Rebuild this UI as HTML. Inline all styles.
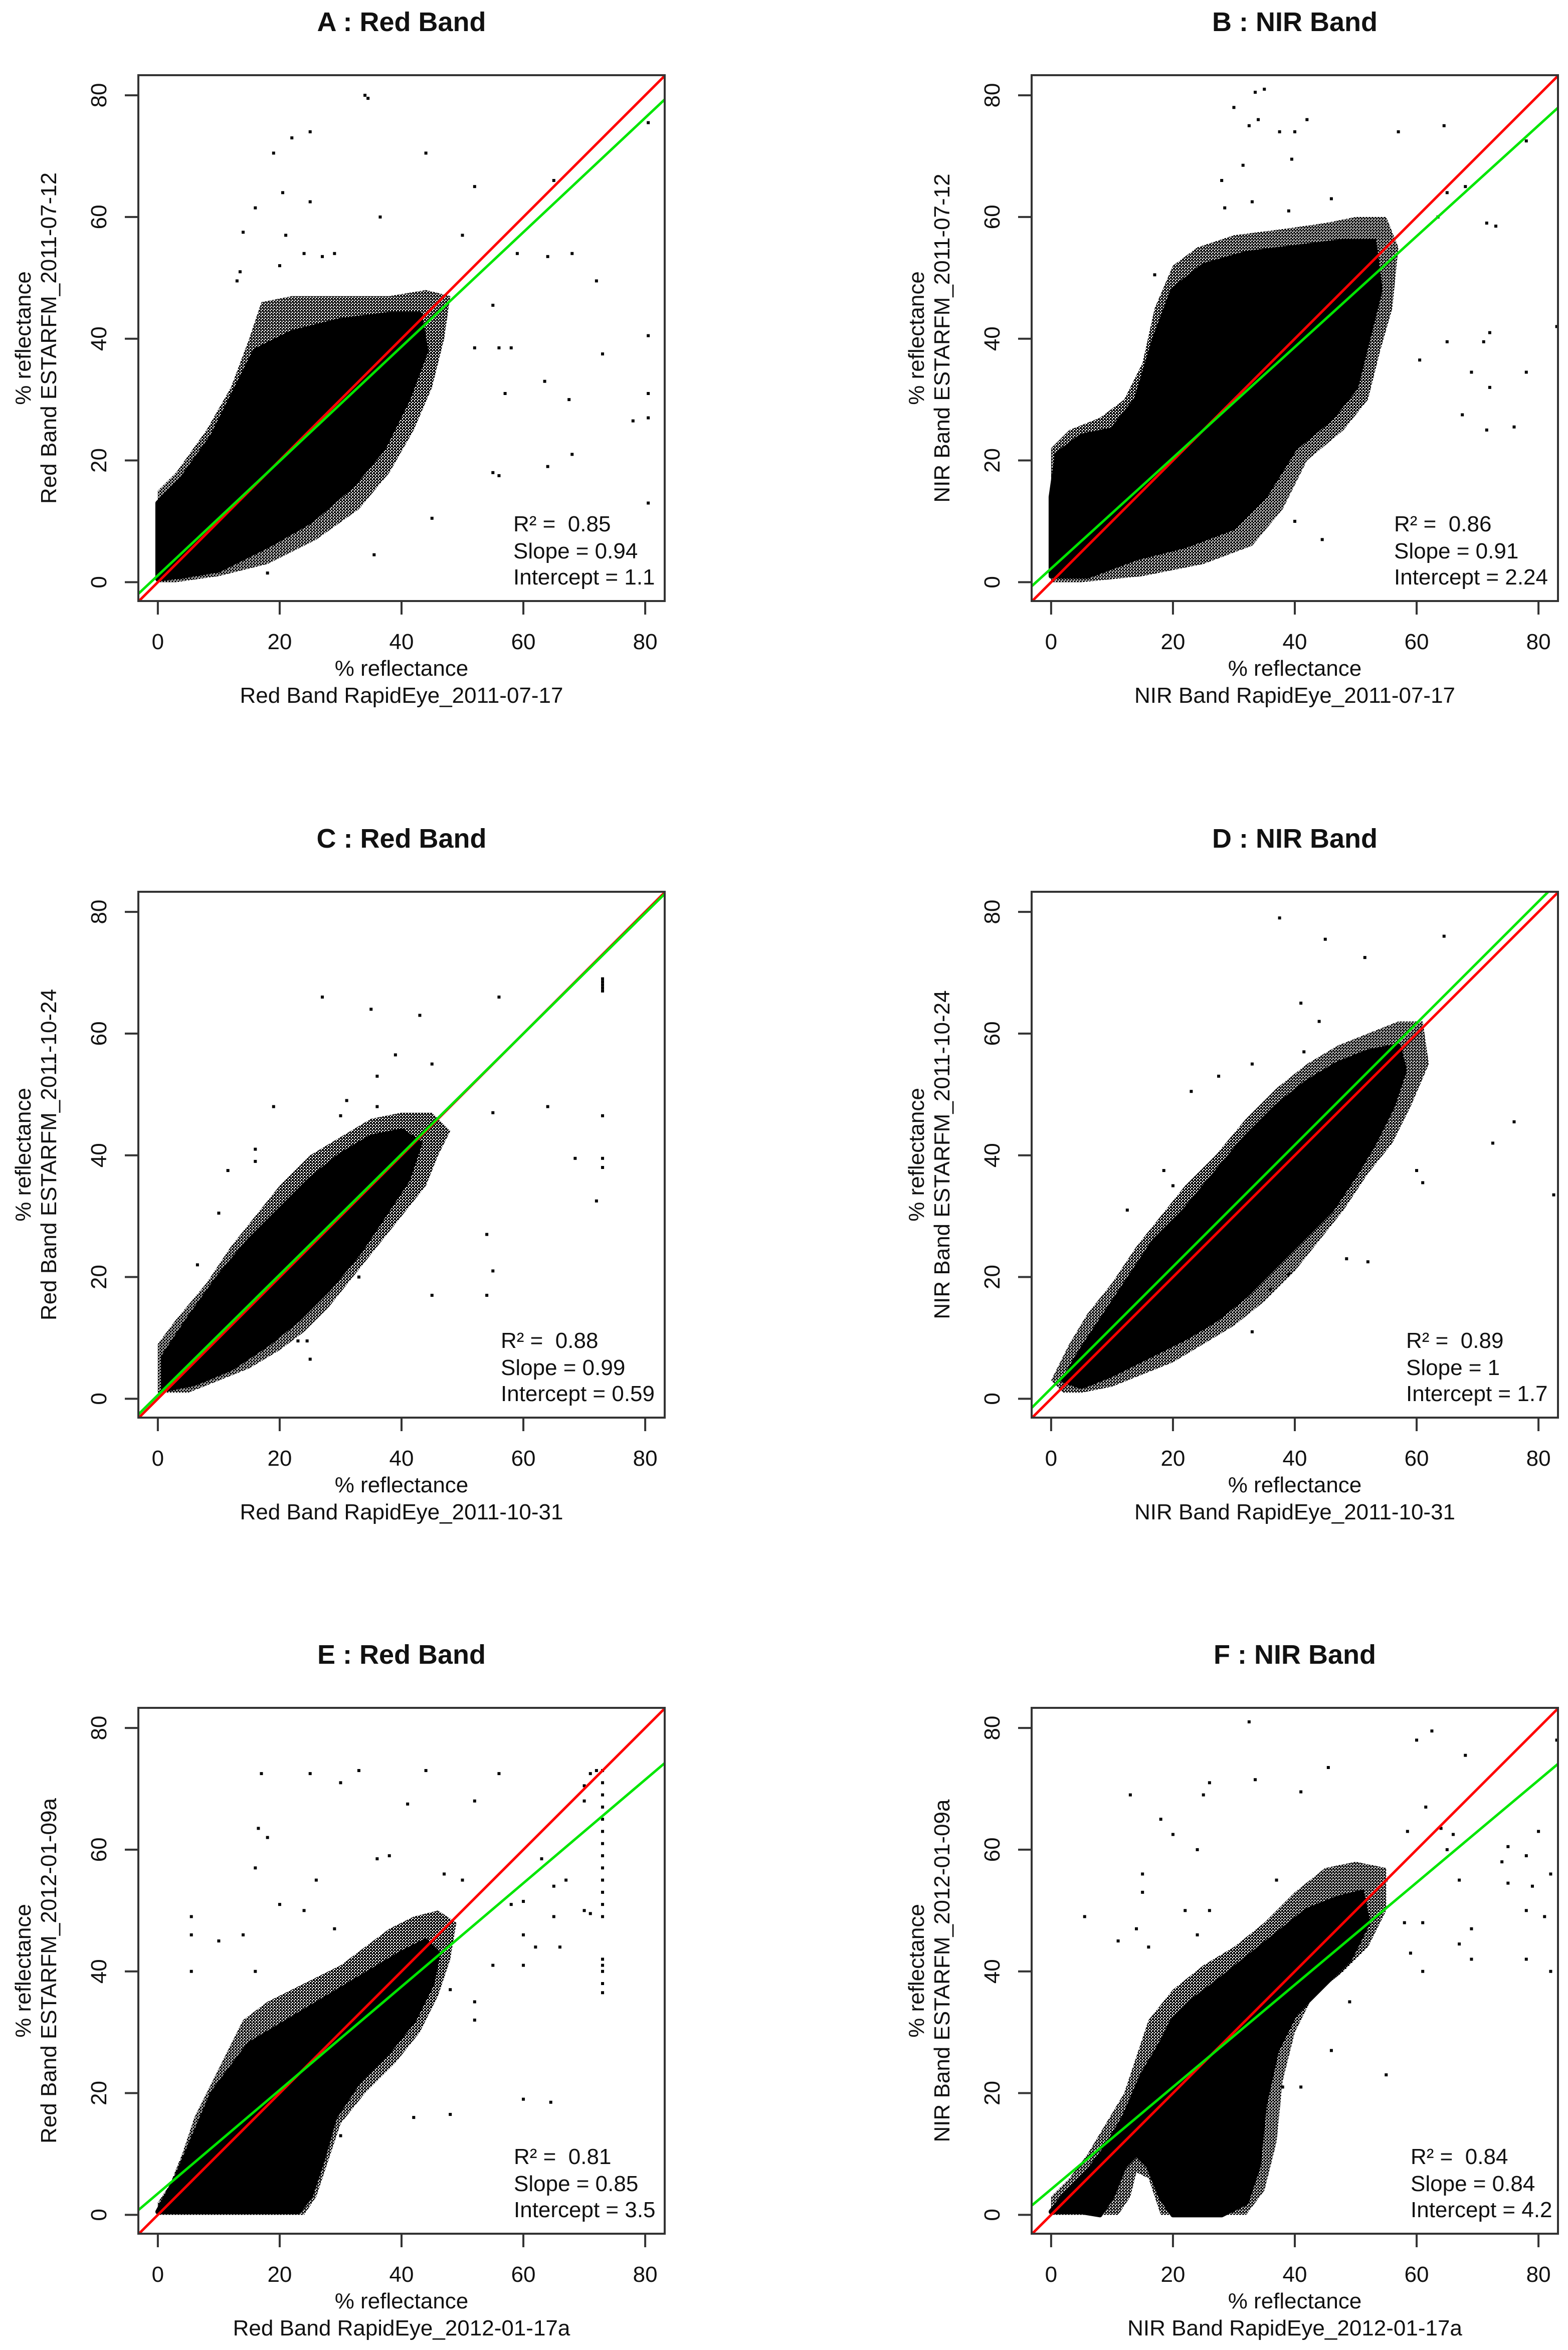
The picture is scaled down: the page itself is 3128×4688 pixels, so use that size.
<!DOCTYPE html>
<html><head><meta charset="utf-8"><title>ESTARFM vs RapidEye scatter plots</title>
<style>
html,body{margin:0;padding:0;background:#fff;}
svg{display:block;}
text{font-family:"Liberation Sans",Arial,sans-serif;fill:#111;}
.stat{white-space:pre;}
</style></head>
<body>
<svg id="fig" xmlns="http://www.w3.org/2000/svg" width="3128" height="4688" viewBox="0 0 3128 4688">
<defs>
<pattern id="fringe" patternUnits="userSpaceOnUse" width="6" height="6">
<rect x="0" y="0" width="4" height="4" fill="#000"/>
<rect x="3" y="3" width="3" height="3" fill="#000"/>
</pattern>
</defs>
</svg>
<script>
// ---- data ----
const panelTitles = ["A : Red Band","B : NIR Band","C : Red Band","D : NIR Band","E : Red Band","F : NIR Band"];
const yLabels = ["Red Band ESTARFM_2011-07-12","NIR Band ESTARFM_2011-07-12","Red Band ESTARFM_2011-10-24","NIR Band ESTARFM_2011-10-24","Red Band ESTARFM_2012-01-09a","NIR Band ESTARFM_2012-01-09a"];
const xLabels = ["Red Band RapidEye_2011-07-17","NIR Band RapidEye_2011-07-17","Red Band RapidEye_2011-10-31","NIR Band RapidEye_2011-10-31","Red Band RapidEye_2012-01-17a","NIR Band RapidEye_2012-01-17a"];
const r2Values = ["0.85","0.86","0.88","0.89","0.81","0.84"];
const slopes = [0.94,0.91,0.99,1,0.85,0.84];
const slopeLabels = ["0.94","0.91","0.99","1","0.85","0.84"];
const intercepts = [1.1,2.24,0.59,1.7,3.5,4.2];
const interceptLabels = ["1.1","2.24","0.59","1.7","3.5","4.2"];
const ticks = [0,20,40,60,80];

const fringeA = [[0,0],[0,15],[3,18],[8,25],[12,32],[15,40],[17,46],[22,47],[30,47],[38,47],[44,48],[48,47],[47,40],[45,32],[42,25],[38,18],[33,12],[26,7],[18,3],[10,1],[3,0]];
const coreA = [[0,0.5],[0,13],[4,17],[9,24],[13,32],[16,38],[22,41],[30,43],[38,44],[43,44],[44,38],[41,30],[37,22],[32,16],[25,10],[18,6],[10,2],[4,1]];
const outA = [[34,80],[34.5,79.5],[25,74],[22,73],[19,70.5],[44,70.5],[80.5,75.5],[20.5,64],[25,62.5],[16,61.5],[36.5,60],[52,65],[65,66],[14,57.5],[21,57],[24,54],[29,54],[27,53.5],[20,52],[13,49.5],[13.5,51],[50,57],[59,54],[64,53.5],[68,54],[72,49.5],[80.5,40.5],[73,37.5],[80.5,31],[80.5,27],[78,26.5],[67.5,30],[63.5,33],[68,21],[64,19],[55,18],[56,17.5],[80.5,13],[57,31],[58,38.5],[56,38.5],[55,45.5],[52,38.5],[35.5,4.5],[18,1.5],[45,10.5]];

const fringeB = [[0,0],[0,5],[0,15],[0,22],[3,25],[8,27],[12,30],[15,36],[17,45],[20,52],[24,55],[30,57],[38,58],[45,59],[50,60],[55,60],[57,55],[56,45],[54,38],[52,30],[48,25],[42,20],[38,12],[33,6],[25,3],[15,1],[5,0]];
const coreB = [[0,1],[0,14],[1,21],[5,24],[10,25],[14,30],[17,40],[20,48],[25,52],[32,54],[40,55],[48,56],[53,56],[54,48],[52,40],[50,32],[46,27],[40,22],[35,14],[30,9],[22,6],[14,4],[6,1]];
const outB = [[35,81],[33.5,80.5],[30,78],[34,76],[32.5,75],[42,76],[64.5,75],[57,74],[40,74],[37.5,74],[39.5,69.5],[31.5,68.5],[28,66],[78,72.5],[65,64],[68,65],[33,62.5],[39,61],[28.5,61.5],[46,63],[63.5,60],[71.5,59],[73,58.5],[83,42],[72,41],[71,39.5],[65,39.5],[60.5,36.5],[69,34.5],[72,32],[71.5,25],[76,25.5],[78,34.5],[67.5,27.5],[40,10],[44.5,7],[25,10.5],[17,50.5],[19,45.5]];

const fringeC = [[0,1],[0,9],[3,13],[8,19],[12,25],[16,30],[20,35],[25,40],[30,43],[35,46],[40,47],[45,47],[48,44],[46,40],[44,35],[40,30],[36,25],[32,20],[28,15],[24,11],[20,8],[15,5],[10,3],[5,1]];
const coreC = [[1,1.5],[1,7],[5,13],[10,20],[15,26],[20,31],[25,36],[30,40],[35,43],[40,44],[43,42],[41,36],[37,30],[33,24],[28,18],[23,13],[18,9],[12,5],[6,2.5]];
const outC = [[73,69],[73,68.5],[73,68],[73,67.5],[73,67],[73,46.5],[73,39.5],[73,38],[72,32.5],[68.5,39.5],[27,66],[35,64],[43,63],[56,66],[39,56.5],[45,55],[36,53],[36,48],[31,49],[30,46.5],[19,48],[16,41],[16,39],[11.5,37.5],[10,30.5],[6.5,22],[55,47],[64,48],[54,27],[55,21],[54,17],[45,17],[25,6.5],[23,9.5],[24.5,9.5],[33,20]];

const fringeD = [[0,3],[1,5],[3,9],[6,14],[10,19],[14,25],[18,30],[22,35],[27,40],[32,46],[37,51],[42,55],[47,58],[52,60],[57,62],[61,62],[62,55],[59,48],[56,42],[52,37],[48,31],[44,26],[40,21],[35,16],[30,12],[25,9],[20,6],[15,4],[10,2],[5,1],[2,1]];
const coreD = [[2,3],[5,8],[9,14],[13,20],[17,26],[22,31],[27,37],[32,43],[37,48],[42,52],[47,55],[52,57],[57,58],[58,54],[56,48],[53,42],[50,37],[46,31],[42,27],[37,22],[32,17],[27,13],[22,10],[16,7],[10,4],[5,2]];
const outD = [[37.5,79],[45,75.5],[51.5,72.5],[64.5,76],[41,65],[44,62],[23,50.5],[41.5,57],[33,55],[27.5,53],[76,45.5],[72.5,42],[82.5,33.5],[60,37.5],[61,35.5],[48.5,23],[52,22.5],[20,35],[18.5,37.5],[12.5,31],[33,11],[39,20.5],[36,18]];

const fringeE = [[0,0],[0,2],[2,5],[4,10],[6,16],[8,20],[10,24],[12,28],[14,32],[18,35],[22,37],[26,39],[30,41],[34,44],[38,47],[42,49],[46,50],[49,48],[48,42],[46,36],[43,30],[39,25],[34,20],[30,15],[28,9],[26,3],[24,0]];
const coreE = [[0,0.5],[3,6],[6,13],[9,20],[12,24],[15,28],[20,31],[25,34],[30,37],[35,40],[40,43],[44,45],[46,43],[45,38],[42,32],[38,27],[33,22],[29,16],[27,9],[25,3],[23,0.5],[15,0.5],[10,0.5],[5,0.5]];
const outE = [[73,73],[73,71],[73,69],[73,67],[73,65],[73,63],[73,61],[73,59],[73,57],[73,55],[73,53],[73,51],[73,49],[73,42],[73,41],[73,40],[73,38],[73,36.5],[17,72.5],[25,72.5],[33,73],[44,73],[56,72.5],[71,72.5],[72,73],[70,70.5],[70,68],[30,71],[52,68],[41,67.5],[16.5,63.5],[18,62],[26,55],[36,58.5],[38,59],[63,58.5],[16,57],[47,56],[65,54],[50,55],[67,55],[58,51],[60,51.5],[65,49],[71,49.5],[70,50],[5.5,49],[20,51],[24,50],[14,46],[5.5,46],[10,45],[29,47],[60,46],[62,44],[66,44],[55,41],[60,41],[5.5,40],[16,40],[48,37],[52,35],[52,32],[60,19],[64.5,18.5],[48,16.5],[42,16],[30,13]];

const fringeF = [[0,0],[0,3],[3,6],[6,10],[9,15],[12,20],[14,26],[16,32],[20,37],[25,41],[30,44],[35,48],[40,53],[45,57],[50,58],[55,57],[55,50],[52,44],[48,40],[43,36],[40,30],[38,22],[37,12],[35,4],[32,0],[18,0],[16,6],[14,7],[13,3],[11,0]];
const coreF = [[0,0.5],[2,3],[6,7],[9,11],[12,16],[15,23],[18,28],[20,32],[23,35],[27,38],[32,42],[37,46],[42,50],[47,52],[51,53],[52,48],[49,42],[44,37],[40,33],[37,27],[35,18],[34,8],[32,2],[28,0],[20,0],[18,3],[16,8],[14,10],[12,8],[10,3],[8,0],[5,0.5]];
const outF = [[32.5,81],[62.5,79.5],[60,78],[83,78],[68,75.5],[45.5,73.5],[33.5,71.5],[26,71],[13,69],[25,69],[41,69.5],[61.5,67],[58.5,63],[64,63.5],[66,62.5],[18,65],[20,62.5],[65,60],[75,60.5],[78,59],[80,63],[74,58],[82,56],[67,55],[55,55],[75,54.5],[79,54],[24,60],[15,56],[15,53],[37,55],[26,50],[22,50],[24,46],[14,47],[16,44],[11,45],[5.5,49],[69,47],[78,50],[81,49],[67,44.5],[69,42],[78,42],[82,40],[61,40],[59,43],[61,48],[58,48],[49,35],[46,27],[55,23],[38,21],[41,21],[35,18],[31,14],[33,12]];

const fringes = [fringeA,fringeB,fringeC,fringeD,fringeE,fringeF];
const cores = [coreA,coreB,coreC,coreD,coreE,coreF];
const outliers = [outA,outB,outC,outD,outE,outF];

// ---- layout ----
const NS = "http://www.w3.org/2000/svg";
const svg = document.getElementById('fig');
const colX = [276, 2058];
const rowY = [150, 1779, 3407];
const BW = 1050, BH = 1049;
const XMIN = -3.2, XMAX = 83.2, YMIN = -3.1, YMAX = 83.3;
const statLeft = [748, 723, 723, 747, 749, 756];

function mk(tag, attrs, parent) {
  const e = document.createElementNS(NS, tag);
  for (const k in attrs) e.setAttribute(k, attrs[k]);
  (parent || svg).appendChild(e);
  return e;
}

for (let p = 0; p < 6; p++) {
  const bx = colX[p % 2], by = rowY[Math.floor(p / 2)];
  const sx = v => bx + (v - XMIN) / (XMAX - XMIN) * BW;
  const sy = v => by + BH - (v - YMIN) / (YMAX - YMIN) * BH;
  const letter = "abcdef"[p];

  const g = mk('g', {});
  
  

  const cp = mk('clipPath', {id: 'clip' + p}, g);
  mk('rect', {x: bx, y: by, width: BW, height: BH}, cp);

  const title = mk('text', {x: bx + BW / 2, y: by - 88, 'text-anchor': 'middle', 'font-size': 54, 'font-weight': 'bold'}, g);
  title.textContent = panelTitles[p];
  
  

  const plot = mk('g', {'clip-path': 'url(#clip' + p + ')'}, g);
  
  

  const fr = mk('polygon', {points: fringes[p].map(d => sx(d[0]) + ',' + sy(d[1])).join(' '), fill: 'url(#fringe)'}, plot);
  
  
  const co = mk('polygon', {points: cores[p].map(d => sx(d[0]) + ',' + sy(d[1])).join(' '), fill: '#000', stroke: '#000', 'stroke-width': 10, 'stroke-linejoin': 'round'}, plot);
  
  
  outliers[p].forEach(d => {
    const r = mk('rect', {x: sx(d[0]) - 3, y: sy(d[1]) - 3, width: 6, height: 6, fill: '#000'}, plot);
    
    
  });

  const red = mk('line', {x1: sx(XMIN), y1: sy(XMIN), x2: sx(XMAX), y2: sy(XMAX), stroke: '#ff0000', 'stroke-width': 5}, plot);
  
  
  const gr = mk('line', {x1: sx(XMIN), y1: sy(slopes[p] * XMIN + intercepts[p]), x2: sx(XMAX), y2: sy(slopes[p] * XMAX + intercepts[p]), stroke: '#00e600', 'stroke-width': 5}, plot);
  
  

  const box = mk('rect', {x: bx, y: by, width: BW, height: BH, fill: 'none', stroke: '#333', 'stroke-width': 4}, g);
  
  

  ticks.forEach(t => {
    const xt = mk('line', {x1: sx(t), y1: by + BH, x2: sx(t), y2: by + BH + 27, stroke: '#333', 'stroke-width': 4}, g);
    
    
    const xl = mk('text', {x: sx(t), y: by + BH + 96, 'text-anchor': 'middle', 'font-size': 44}, g);
    xl.textContent = t;
    
    
    const yt = mk('line', {x1: bx - 27, y1: sy(t), x2: bx, y2: sy(t), stroke: '#333', 'stroke-width': 4}, g);
    
    
    const yl = mk('text', {x: 0, y: 0, 'text-anchor': 'middle', 'font-size': 44, transform: 'translate(' + (bx - 64) + ',' + sy(t) + ') rotate(-90)'}, g);
    yl.textContent = t;
    
    
  });

  const xa1 = mk('text', {x: bx + BW / 2, y: by + BH + 149, 'text-anchor': 'middle', 'font-size': 44}, g);
  xa1.textContent = '% reflectance';
  
  
  const xa2 = mk('text', {x: bx + BW / 2, y: by + BH + 203, 'text-anchor': 'middle', 'font-size': 44}, g);
  xa2.textContent = xLabels[p];
  
  
  const ya1 = mk('text', {x: 0, y: 0, 'text-anchor': 'middle', 'font-size': 44, transform: 'translate(' + (bx - 215) + ',' + (by + BH / 2) + ') rotate(-90)'}, g);
  ya1.textContent = '% reflectance';
  
  
  const ya2 = mk('text', {x: 0, y: 0, 'text-anchor': 'middle', 'font-size': 44, transform: 'translate(' + (bx - 164) + ',' + (by + BH / 2) + ') rotate(-90)'}, g);
  ya2.textContent = yLabels[p];
  
  

  const lines = ['R\u00B2 =  ' + r2Values[p], 'Slope = ' + slopeLabels[p], 'Intercept = ' + interceptLabels[p]];
  const offs = [139, 85, 33];
  lines.forEach((s, i) => {
    const st = mk('text', {x: bx + statLeft[p], y: by + BH - offs[i], 'font-size': 44, class: 'stat'}, g);
    st.textContent = s;
    
    
  });
}
</script>
</body></html>
